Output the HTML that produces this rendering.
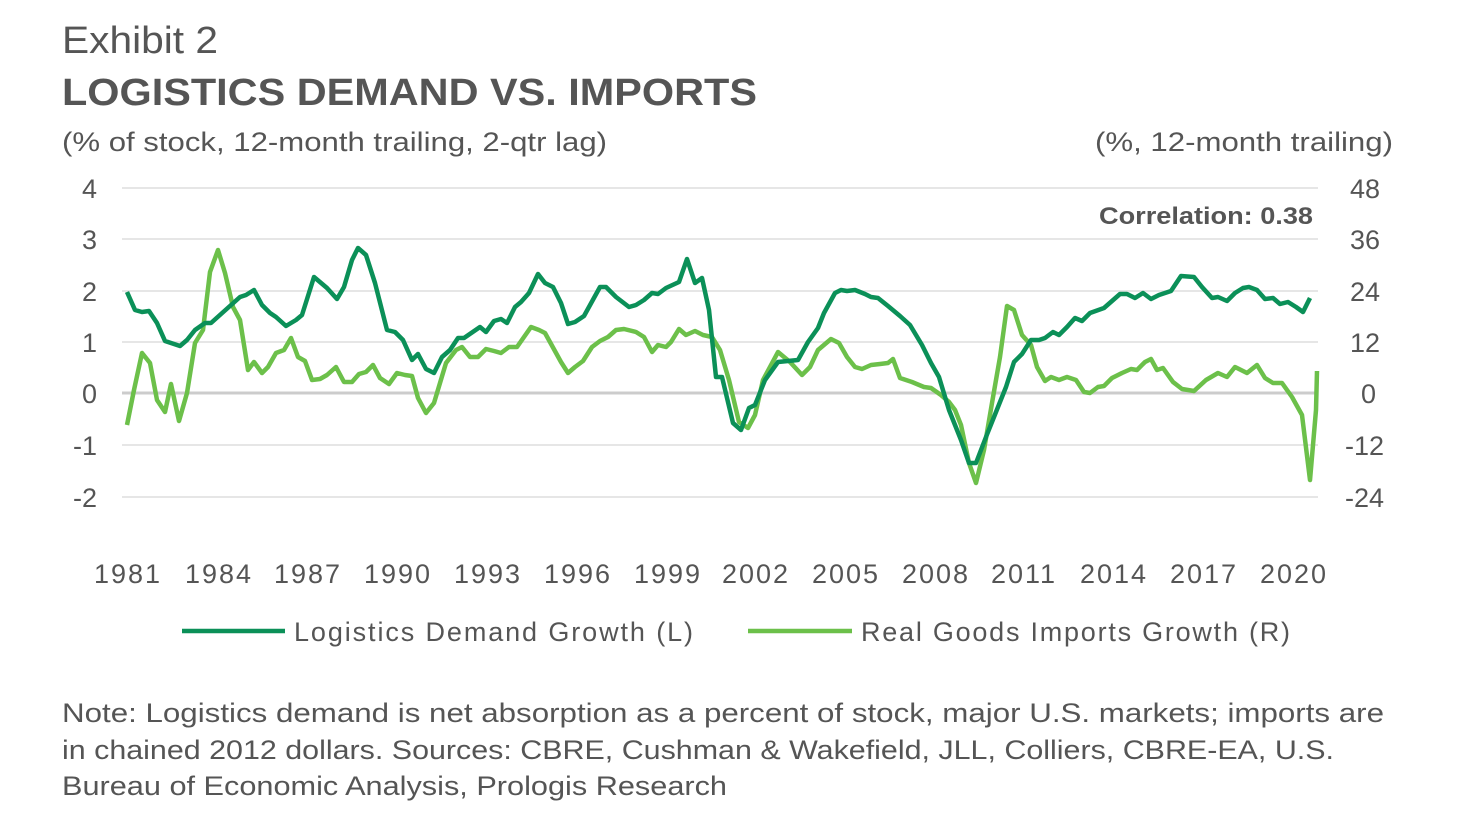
<!DOCTYPE html>
<html><head><meta charset="utf-8"><style>
body{margin:0;background:#fff;}
svg text{font-family:"Liberation Sans",sans-serif;fill:#555;}
</style></head><body>
<svg width="1458" height="833" viewBox="0 0 1458 833" xmlns="http://www.w3.org/2000/svg">
<text x="62" y="53" font-size="38" fill="#666" textLength="156" lengthAdjust="spacingAndGlyphs">Exhibit 2</text>
<text x="62" y="105" font-size="38" font-weight="bold" fill="#595959" textLength="695" lengthAdjust="spacingAndGlyphs">LOGISTICS DEMAND VS. IMPORTS</text>
<text x="62" y="151" font-size="27" textLength="545" lengthAdjust="spacingAndGlyphs">(% of stock, 12-month trailing, 2-qtr lag)</text>
<text x="1095" y="151" font-size="27" textLength="298" lengthAdjust="spacingAndGlyphs">(%, 12-month trailing)</text>
<g stroke="#ddd" stroke-width="1.5">
<line x1="122" y1="188" x2="1318" y2="188"/><line x1="122" y1="239" x2="1318" y2="239"/>
<line x1="122" y1="291" x2="1318" y2="291"/><line x1="122" y1="342" x2="1318" y2="342"/>
<line x1="122" y1="445" x2="1318" y2="445"/><line x1="122" y1="497" x2="1318" y2="497"/>
</g>
<line x1="122" y1="393" x2="1318" y2="393" stroke="#ccc" stroke-width="3"/>
<g font-size="27" text-anchor="end">
<text x="97" y="198">4</text><text x="97" y="249">3</text><text x="97" y="301">2</text><text x="97" y="352">1</text><text x="97" y="403">0</text><text x="97" y="455">-1</text><text x="97" y="507">-2</text>
</g>
<g font-size="27" text-anchor="start">
<text x="1350" y="198">48</text><text x="1350" y="249">36</text><text x="1350" y="301">24</text><text x="1350" y="352">12</text><text x="1361" y="403">0</text><text x="1345" y="455">-12</text><text x="1345" y="507">-24</text>
</g>
<g font-size="27" text-anchor="middle" letter-spacing="2">
<text x="128" y="583">1981</text><text x="219" y="583">1984</text><text x="308" y="583">1987</text><text x="398" y="583">1990</text><text x="488" y="583">1993</text><text x="578" y="583">1996</text><text x="668" y="583">1999</text><text x="756" y="583">2002</text><text x="846" y="583">2005</text><text x="936" y="583">2008</text><text x="1024" y="583">2011</text><text x="1114" y="583">2014</text><text x="1204" y="583">2017</text><text x="1294" y="583">2020</text>
</g>
<text x="1099" y="224" font-size="24" font-weight="bold" textLength="214" lengthAdjust="spacingAndGlyphs">Correlation: 0.38</text>
<polyline fill="none" stroke="#6cc04a" stroke-width="4.5" stroke-linejoin="round" points="127,425 134,390 142,353 150,363 157,400 165,412 171,384 179,421 187,393 195,343 203,330 210,272 218,250 225,273 233,307 240,320 248,370 254,362 262,373 268,367 276,353 284,350 291,338 298,357 305,361 312,380 320,379 327,375 336,367 344,382 352,382 359,374 366,372 373,365 380,378 389,384 397,373 405,375 412,376 418,398 426,413 434,403 446,363 456,350 462,347 470,357 478,357 486,349 494,351 501,353 509,347 517,347 531,327 539,330 545,333 561,362 568,373 575,367 583,361 592,347 600,341 608,337 616,330 624,329 636,332 644,337 652,352 658,345 666,347 671,342 679,329 686,335 695,331 703,335 712,337 720,350 729,380 739,422 748,428 755,415 763,380 778,352 790,362 802,375 810,367 818,350 831,339 839,343 847,357 855,367 862,369 871,365 880,364 888,363 893,359 900,378 912,382 924,387 931,388 941,395 949,402 955,410 961,425 969,463 976,483 984,450 992,403 1000,357 1007,306 1014,310 1022,335 1031,345 1037,367 1045,381 1051,377 1059,380 1067,377 1076,380 1084,392 1090,393 1098,387 1104,386 1112,378 1122,373 1131,369 1137,370 1145,362 1151,359 1157,370 1163,368 1173,382 1182,389 1194,391 1206,380 1218,373 1227,377 1235,367 1247,373 1257,365 1265,378 1273,383 1282,383 1292,397 1302,415 1310,480 1316,410 1317,371"/>
<polyline fill="none" stroke="#0b9058" stroke-width="4.5" stroke-linejoin="round" points="127,292 135,310 142,312 149,311 157,323 165,341 180,346 187,340 195,330 205,323 211,323 240,297 246,295 254,290 262,305 270,313 276,317 286,326 296,320 302,315 314,277 327,288 337,299 344,287 352,260 358,248 366,255 375,283 387,330 395,332 403,340 412,360 418,354 426,369 434,373 442,357 450,350 458,338 464,338 480,327 486,332 494,321 501,319 507,323 515,307 521,302 529,293 538,274 545,283 553,287 561,303 568,324 575,322 584,316 600,287 606,287 616,297 629,307 636,305 644,300 652,293 658,294 666,288 679,282 687,259 695,283 702,278 709,310 716,377 722,377 733,423 741,430 749,408 755,405 765,380 778,362 788,361 798,360 808,342 818,328 824,313 835,293 841,290 847,291 855,290 865,294 871,297 878,298 888,306 900,316 910,325 916,335 922,345 931,363 939,377 949,410 961,440 969,463 976,463 986,437 998,407 1006,387 1014,362 1022,354 1031,340 1039,340 1045,338 1053,332 1059,335 1067,327 1075,318 1082,321 1090,313 1104,308 1120,294 1127,294 1135,298 1143,293 1151,299 1159,295 1171,291 1181,276 1194,277 1202,287 1212,298 1218,297 1227,301 1235,293 1243,288 1249,287 1257,290 1265,299 1273,298 1280,304 1288,302 1296,307 1303,312 1310,298"/>
<line x1="182" y1="631" x2="285" y2="631" stroke="#0b9058" stroke-width="4.5"/>
<text x="294" y="641" font-size="27" textLength="399" lengthAdjust="spacing">Logistics Demand Growth (L)</text>
<line x1="748" y1="631" x2="852" y2="631" stroke="#6cc04a" stroke-width="4.5"/>
<text x="861" y="641" font-size="27" textLength="429" lengthAdjust="spacing">Real Goods Imports Growth (R)</text>
<g font-size="26.5">
<text x="62" y="722" textLength="1322" lengthAdjust="spacingAndGlyphs">Note: Logistics demand is net absorption as a percent of stock, major U.S. markets; imports are</text>
<text x="62" y="759" textLength="1272" lengthAdjust="spacingAndGlyphs">in chained 2012 dollars. Sources: CBRE, Cushman &amp; Wakefield, JLL, Colliers, CBRE-EA, U.S.</text>
<text x="62" y="795" textLength="665" lengthAdjust="spacingAndGlyphs">Bureau of Economic Analysis, Prologis Research</text>
</g>
</svg>
</body></html>
